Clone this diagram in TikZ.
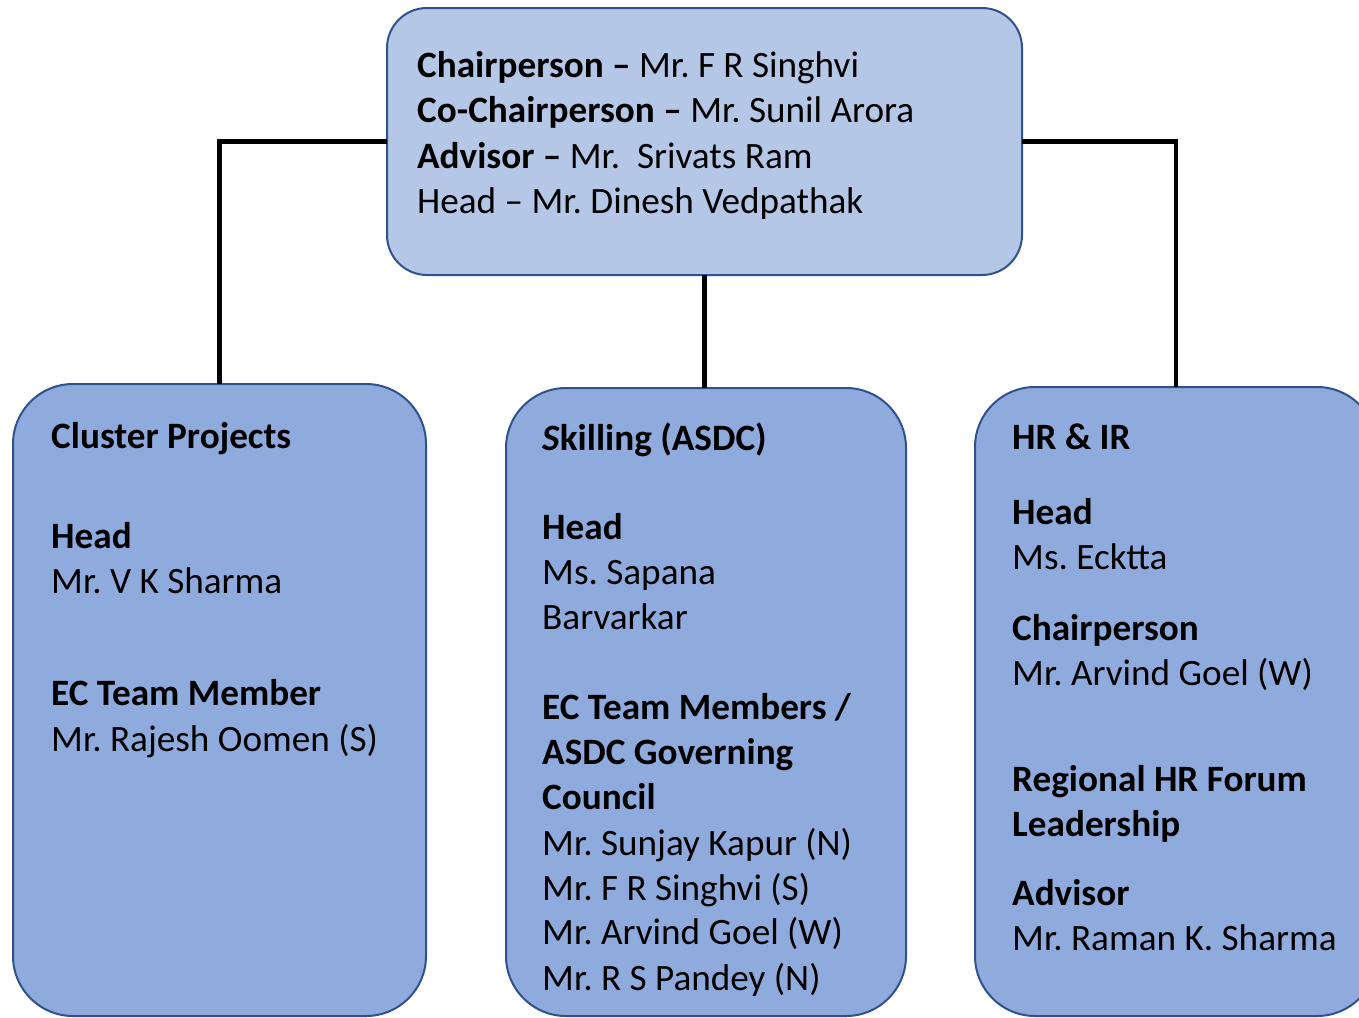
\documentclass[tikz,border=0pt]{standalone}
\usepackage{fontspec}
\setmainfont{Carlito}
\frenchspacing
\definecolor{topfill}{HTML}{B4C7E7}
\definecolor{subfill}{HTML}{8FAADC}
\definecolor{edgeblue}{HTML}{2F528F}
\newcommand\tline[4]{\node[txt] (#1) at (#2,#3) {#4};}
\begin{document}
\begin{tikzpicture}[x=1pt,y=-1pt,
  box/.style={draw=edgeblue, line width=2pt, inner sep=0pt, outer sep=0pt},
  topbox/.style={box, fill=topfill, rounded corners=40pt},
  subbox/.style={box, fill=subfill, rounded corners=60pt},
  link/.style={draw=black, line width=4.5pt},
  txt/.style={anchor=base west, inner sep=0pt, font=\fontsize{37.2}{45}\selectfont, text=black}]
\useasboundingbox (0,0) rectangle (1359,1017);
% boxes
\node[topbox, minimum width=635pt, minimum height=267pt] (top) at (704.5,141.5) {};
\node[subbox, minimum width=413pt, minimum height=632pt] (left) at (219.5,700) {};
\node[subbox, minimum width=400pt, minimum height=628pt] (mid) at (706,702) {};
\node[subbox, minimum width=402pt, minimum height=629pt] (right) at (1176,701.5) {};
% connectors
\draw[link] (top.west) -| (left.north);
\draw[link] (top.east) -| (right.north);
\draw[link] (top.south) -- (top.south |- mid.north);
% top text
\tline{t1}{417}{77}{\textbf{Chairperson –} Mr. F R Singhvi}
\tline{t2}{417}{122}{\textbf{Co-Chairperson –} Mr. Sunil Arora}
\tline{t3}{417}{168}{\textbf{Advisor –} Mr.\ \ Srivats Ram}
\tline{t4}{417}{213}{Head – Mr. Dinesh Vedpathak}
% left text
\tline{l1}{51}{448}{\textbf{Cluster Projects}}
\tline{l2}{51}{548}{\textbf{Head}}
\tline{l3}{51}{593}{Mr. V K Sharma}
\tline{l4}{51}{705}{\textbf{EC Team Member}}
\tline{l5}{51}{751}{Mr. Rajesh Oomen (S)}
% middle text
\tline{m1}{542}{450}{\textbf{\textit{S}killing (ASDC)}}
\tline{m2}{542}{539}{\textbf{Head}}
\tline{m3}{542}{584}{Ms. Sapana}
\tline{m4}{542}{629}{Barvarkar}
\tline{m5}{542}{719}{\textbf{EC Team Members /}}
\tline{m6}{542}{764}{\textbf{ASDC Governing}}
\tline{m7}{542}{809}{\textbf{Council}}
\tline{m8}{542}{855}{Mr. Sunjay Kapur (N)}
\tline{m9}{542}{900}{Mr. F R Singhvi (S)}
\tline{m10}{542}{944}{Mr. Arvind Goel (W)}
\tline{m11}{542}{990}{Mr. R S Pandey (N)}
% right text
\tline{r1}{1012}{449}{\textbf{HR \& IR}}
\tline{r2}{1012}{524}{\textbf{Head}}
\tline{r3}{1012}{569}{Ms. Ecktta}
\tline{r4}{1012}{640}{\textbf{Chairperson}}
\tline{r5}{1012}{685}{Mr. Arvind Goel (W)}
\tline{r6}{1012}{791}{\textbf{Regional HR Forum}}
\tline{r7}{1012}{836}{\textbf{Leadership}}
\tline{r8}{1012}{905}{\textbf{Advisor}}
\tline{r9}{1012}{950}{Mr. Raman K. Sharma}
\end{tikzpicture}
\end{document}
